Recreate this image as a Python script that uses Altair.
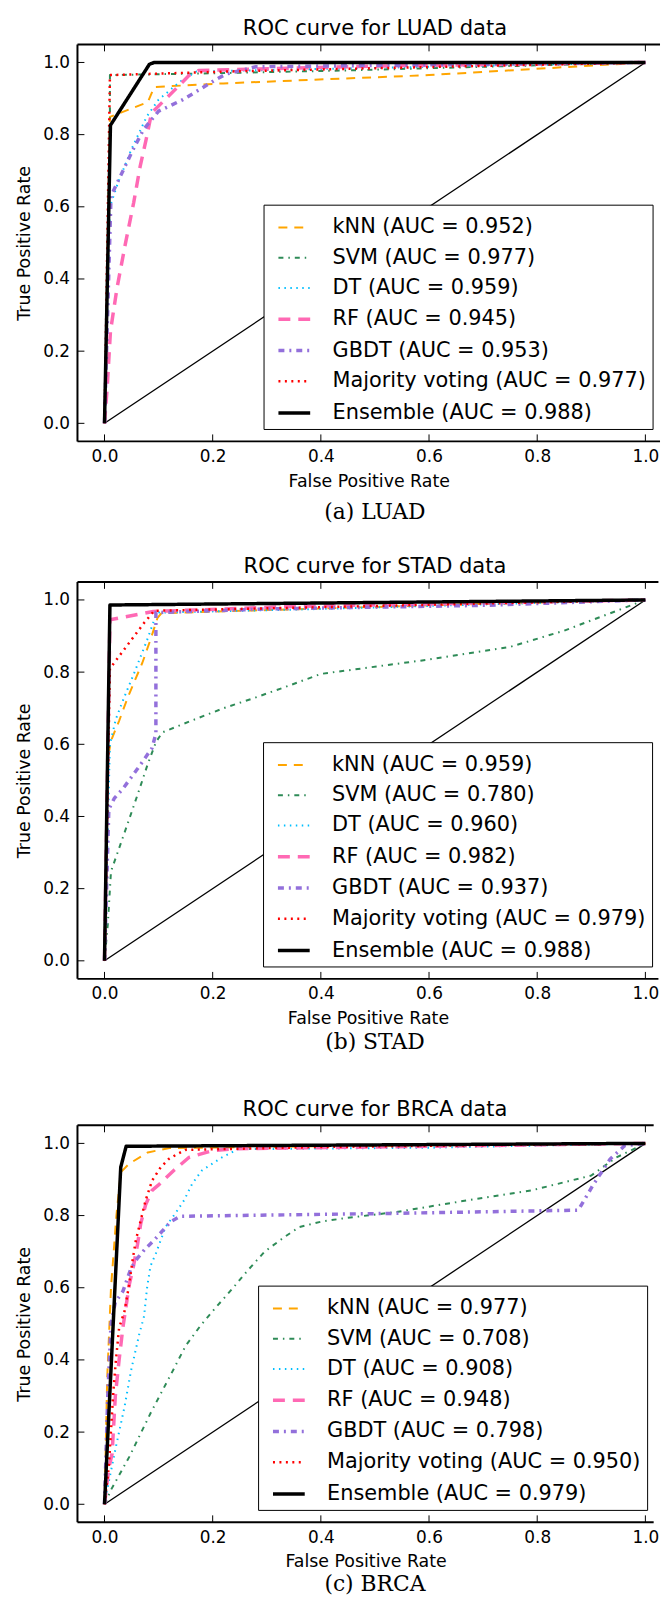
import altair as alt
import pandas as pd

FONT = "DejaVu Sans"
SERIF = "DejaVu Serif"

models = ["kNN", "SVM", "DT", "RF", "GBDT", "Majority voting", "Ensemble"]
colors = ["#FFA500", "#2E8B57", "#00BFFF", "#FF69B4", "#9370DB", "#FF0000", "#000000"]
dash_patterns = [[9, 7], [5, 5, 1.5, 5], [1.5, 4.5], [12, 8], [6, 5, 2, 5], [2, 4.5], [1, 0]]
line_widths = [2, 2, 2, 3.5, 3.5, 2.5, 3.5]
tick_values = [0.0, 0.2, 0.4, 0.6, 0.8, 1.0]

titles = ["ROC curve for LUAD data", "ROC curve for STAD data", "ROC curve for BRCA data"]
captions = ["(a) LUAD", "(b) STAD", "(c) BRCA"]

luad_auc = [0.952, 0.977, 0.959, 0.945, 0.953, 0.977, 0.988]
stad_auc = [0.959, 0.780, 0.960, 0.982, 0.937, 0.979, 0.988]
brca_auc = [0.977, 0.708, 0.908, 0.948, 0.798, 0.950, 0.979]

chance_fpr = [0.0, 1.0]
chance_tpr = [0.0, 1.0]

# ---- LUAD ----
luad_knn_fpr = [0, 0.01, 0.08, 0.092, 0.22, 0.6, 1.0]
luad_knn_tpr = [0, 0.849, 0.89, 0.932, 0.942, 0.965, 1.0]
luad_svm_fpr = [0, 0.01, 0.01, 0.2, 0.45, 0.75, 1.0]
luad_svm_tpr = [0, 0.83, 0.965, 0.97, 0.978, 0.99, 1.0]
luad_dt_fpr = [0, 0.01, 0.025, 0.05, 0.078, 0.1, 0.14, 0.17, 0.5, 1.0]
luad_dt_tpr = [0, 0.6, 0.667, 0.76, 0.85, 0.897, 0.947, 0.975, 0.985, 1.0]
luad_rf_fpr = [0, 0.005, 0.011, 0.023, 0.038, 0.054, 0.066, 0.077, 0.087, 0.13, 0.157, 0.175, 0.5, 1.0]
luad_rf_tpr = [0, 0.1, 0.255, 0.374, 0.493, 0.612, 0.713, 0.787, 0.86, 0.924, 0.965, 0.978, 0.99, 1.0]
luad_gbdt_fpr = [0, 0.012, 0.05, 0.072, 0.1, 0.145, 0.165, 0.205, 0.225, 0.28, 1.0]
luad_gbdt_tpr = [0, 0.63, 0.75, 0.814, 0.865, 0.897, 0.915, 0.952, 0.968, 0.988, 1.0]
luad_mv_fpr = [0, 0.01, 0.23, 0.53, 1.0]
luad_mv_tpr = [0, 0.965, 0.975, 0.985, 1.0]
luad_ens_fpr = [0, 0.011, 0.083, 0.092, 1.0]
luad_ens_tpr = [0, 0.826, 0.995, 1.0, 1.0]

# ---- STAD ----
stad_knn_fpr = [0, 0.005, 0.012, 0.027, 0.043, 0.07, 0.085, 0.098, 0.105, 0.3, 0.6, 1.0]
stad_knn_tpr = [0, 0.55, 0.61, 0.665, 0.73, 0.826, 0.89, 0.95, 0.963, 0.972, 0.985, 1.0]
stad_svm_fpr = [0, 0.006, 0.012, 0.027, 0.043, 0.064, 0.079, 0.095, 0.107, 0.16, 0.22, 0.28, 0.34, 0.4, 0.6, 0.75, 0.85, 1.0]
stad_svm_tpr = [0, 0.1, 0.248, 0.312, 0.381, 0.473, 0.541, 0.606, 0.633, 0.665, 0.7, 0.73, 0.762, 0.795, 0.835, 0.87, 0.915, 1.0]
stad_dt_fpr = [0, 0.01, 0.021, 0.035, 0.055, 0.079, 0.092, 0.1, 0.4, 1.0]
stad_dt_tpr = [0, 0.6, 0.67, 0.725, 0.798, 0.89, 0.945, 0.965, 0.975, 1.0]
stad_rf_fpr = [0, 0.01, 0.09, 0.35, 1.0]
stad_rf_tpr = [0, 0.945, 0.968, 0.982, 1.0]
stad_gbdt_fpr = [0, 0.008, 0.018, 0.034, 0.061, 0.088, 0.095, 0.095, 0.3, 0.7, 1.0]
stad_gbdt_tpr = [0, 0.42, 0.45, 0.477, 0.532, 0.59, 0.63, 0.965, 0.975, 0.985, 1.0]
stad_mv_fpr = [0, 0.01, 0.04, 0.073, 0.092, 0.4, 1.0]
stad_mv_tpr = [0, 0.81, 0.87, 0.936, 0.97, 0.98, 1.0]
stad_ens_fpr = [0, 0.01, 1.0]
stad_ens_tpr = [0, 0.986, 1.0]

# ---- BRCA ----
brca_knn_fpr = [0, 0.005, 0.012, 0.022, 0.03, 0.045, 0.08, 0.12, 0.4, 1.0]
brca_knn_tpr = [0, 0.35, 0.6, 0.8, 0.92, 0.943, 0.975, 0.987, 0.992, 1.0]
brca_svm_fpr = [0, 0.012, 0.046, 0.086, 0.128, 0.15, 0.177, 0.205, 0.235, 0.266, 0.296, 0.333, 0.36, 0.4, 0.44, 0.54, 0.67, 0.79, 0.9, 0.945, 1.0]
brca_svm_tpr = [0, 0.04, 0.132, 0.255, 0.375, 0.439, 0.494, 0.544, 0.595, 0.65, 0.7, 0.741, 0.768, 0.783, 0.792, 0.81, 0.842, 0.87, 0.911, 0.96, 1.0]
brca_dt_fpr = [0, 0.003, 0.021, 0.037, 0.049, 0.064, 0.073, 0.079, 0.085, 0.095, 0.113, 0.131, 0.147, 0.162, 0.18, 0.217, 0.247, 0.6, 1.0]
brca_dt_tpr = [0, 0.026, 0.159, 0.27, 0.37, 0.47, 0.52, 0.604, 0.66, 0.695, 0.769, 0.806, 0.842, 0.888, 0.925, 0.961, 0.984, 0.988, 1.0]
brca_rf_fpr = [0, 0.008, 0.014, 0.02, 0.027, 0.034, 0.04, 0.046, 0.054, 0.061, 0.067, 0.076, 0.088, 0.1, 0.128, 0.156, 0.2, 0.24, 0.5, 1.0]
brca_rf_tpr = [0, 0.1, 0.14, 0.3, 0.4, 0.49, 0.55, 0.61, 0.663, 0.72, 0.778, 0.83, 0.87, 0.885, 0.925, 0.961, 0.98, 0.985, 0.99, 1.0]
brca_gbdt_fpr = [0, 0.006, 0.012, 0.02, 0.034, 0.049, 0.061, 0.076, 0.092, 0.122, 0.14, 0.53, 0.876, 0.903, 0.935, 0.962, 1.0]
brca_gbdt_tpr = [0, 0.3, 0.5, 0.56, 0.59, 0.654, 0.682, 0.709, 0.732, 0.783, 0.798, 0.806, 0.815, 0.884, 0.957, 0.994, 1.0]
brca_mv_fpr = [0, 0.008, 0.012, 0.016, 0.021, 0.027, 0.037, 0.045, 0.052, 0.058, 0.067, 0.076, 0.088, 0.104, 0.119, 0.134, 0.15, 0.4, 1.0]
brca_mv_tpr = [0, 0.104, 0.205, 0.306, 0.398, 0.489, 0.535, 0.604, 0.677, 0.732, 0.787, 0.842, 0.897, 0.934, 0.957, 0.97, 0.982, 0.99, 1.0]
brca_ens_fpr = [0, 0.03, 0.04, 1.0]
brca_ens_tpr = [0, 0.934, 0.992, 1.0]

luad_curves = [(luad_knn_fpr, luad_knn_tpr), (luad_svm_fpr, luad_svm_tpr), (luad_dt_fpr, luad_dt_tpr),
               (luad_rf_fpr, luad_rf_tpr), (luad_gbdt_fpr, luad_gbdt_tpr), (luad_mv_fpr, luad_mv_tpr),
               (luad_ens_fpr, luad_ens_tpr)]
stad_curves = [(stad_knn_fpr, stad_knn_tpr), (stad_svm_fpr, stad_svm_tpr), (stad_dt_fpr, stad_dt_tpr),
               (stad_rf_fpr, stad_rf_tpr), (stad_gbdt_fpr, stad_gbdt_tpr), (stad_mv_fpr, stad_mv_tpr),
               (stad_ens_fpr, stad_ens_tpr)]
brca_curves = [(brca_knn_fpr, brca_knn_tpr), (brca_svm_fpr, brca_svm_tpr), (brca_dt_fpr, brca_dt_tpr),
               (brca_rf_fpr, brca_rf_tpr), (brca_gbdt_fpr, brca_gbdt_tpr), (brca_mv_fpr, brca_mv_tpr),
               (brca_ens_fpr, brca_ens_tpr)]

PX_PER_UNIT = 545.0
PLOT_RIGHT = 658  # page x where the visible plot stops (keeps the page from overflowing)
H = 400
TL = 7  # inward tick length


def make_panel(title, caption, aucs, curves, cap_off, plot_left, legend_x):
    W = PLOT_RIGHT - plot_left
    left_ext = plot_left - 8
    xmax = -0.05 + W / PX_PER_UNIT
    labels = [f"{m} (AUC = {a:.3f})" for m, a in zip(models, aucs)]
    rows = []
    for lab, (fx, ty) in zip(labels, curves):
        for i, (a, b) in enumerate(zip(fx, ty)):
            rows.append({"label": lab, "i": i, "fpr": a, "tpr": b})
    df = pd.DataFrame(rows)

    xs = alt.Scale(domain=[-0.05, xmax], nice=False, zero=False)
    ys = alt.Scale(domain=[-0.05, 1.05], nice=False, zero=False)
    xaxis = alt.Axis(values=tick_values, format=".1f", title="False Positive Rate", domain=False, ticks=False,
                     grid=False, labelFont=FONT, labelFontSize=17, labelColor="black", labelPadding=7,
                     titleFont=FONT, titleFontSize=17.5, titleFontWeight="normal", titleColor="black",
                     titlePadding=8, labelFlush=False)
    yaxis = alt.Axis(values=tick_values, format=".1f", title="True Positive Rate", domain=False, ticks=False,
                     grid=False, labelFont=FONT, labelFontSize=17, labelColor="black", labelPadding=8,
                     titleFont=FONT, titleFontSize=17.5, titleFontWeight="normal", titleColor="black",
                     titlePadding=9, labelFlush=False)

    legend = alt.Legend(title=None, orient="none", legendX=legend_x, legendY=161.5, symbolType="stroke",
                        symbolSize=1024, labelFont=FONT, labelFontSize=21, labelLimit=700, labelColor="black",
                        padding=6, rowPadding=3.5, symbolOffset=7, labelOffset=20.5, strokeColor="black",
                        fillColor="white", cornerRadius=0)

    lines = alt.Chart(df).mark_line(strokeCap="butt", strokeJoin="round").encode(
        x=alt.X("fpr:Q", scale=xs, axis=xaxis),
        y=alt.Y("tpr:Q", scale=ys, axis=yaxis),
        order="i:Q",
        color=alt.Color("label:N", scale=alt.Scale(domain=labels, range=colors), legend=legend, sort=labels),
        strokeDash=alt.StrokeDash("label:N", scale=alt.Scale(domain=labels, range=dash_patterns),
                                  legend=legend, sort=labels),
        strokeWidth=alt.StrokeWidth("label:N", scale=alt.Scale(type="ordinal", domain=labels, range=line_widths),
                                    legend=legend, sort=labels),
    )

    diag = alt.Chart(pd.DataFrame({"fpr": chance_fpr, "tpr": chance_tpr})).mark_line(
        color="black", strokeWidth=1.3).encode(
        x=alt.X("fpr:Q", scale=xs, axis=xaxis), y=alt.Y("tpr:Q", scale=ys, axis=yaxis))

    tdf = pd.DataFrame({"t": tick_values})
    top = alt.Chart(tdf).mark_rule(color="black", strokeWidth=1).encode(
        x=alt.X("t:Q", scale=xs, axis=xaxis), y=alt.value(0), y2=alt.value(TL))
    bottom = alt.Chart(tdf).mark_rule(color="black", strokeWidth=1).encode(
        x=alt.X("t:Q", scale=xs, axis=xaxis), y=alt.value(H - TL), y2=alt.value(H))
    left = alt.Chart(tdf).mark_rule(color="black", strokeWidth=1).encode(
        y=alt.Y("t:Q", scale=ys, axis=yaxis), x=alt.value(0), x2=alt.value(TL))

    one = pd.DataFrame({"k": [0]})
    frame_top = alt.Chart(one).mark_rule(color="black", strokeWidth=2).encode(
        x=alt.value(0), x2=alt.value(W), y=alt.value(0))
    frame_bottom = alt.Chart(one).mark_rule(color="black", strokeWidth=2).encode(
        x=alt.value(0), x2=alt.value(W), y=alt.value(H))
    frame_left = alt.Chart(one).mark_rule(color="black", strokeWidth=2).encode(
        x=alt.value(0), y=alt.value(0), y2=alt.value(H))

    cx = (PX_PER_UNIT * 1.1) / 2
    ttl = alt.Chart(pd.DataFrame({"t": [title]})).mark_text(
        font=FONT, fontSize=21.2, baseline="alphabetic", align="center", color="black").encode(
        x=alt.value(cx), y=alt.value(-9.3), text="t:N")

    cap = alt.Chart(pd.DataFrame({"c": [caption]})).mark_text(
        font=SERIF, fontSize=22, baseline="alphabetic", align="center", color="black").encode(
        x=alt.value(cx), y=alt.value(H + cap_off), text="c:N")

    spacer = alt.Chart(pd.DataFrame({"s": ["."]})).mark_text(
        opacity=0, align="left", baseline="middle", fontSize=10).encode(
        x=alt.value(-left_ext), y=alt.value(H / 2), text="s:N")

    return alt.layer(diag, lines, top, bottom, left, frame_top, frame_bottom, frame_left,
                     ttl, cap, spacer).properties(width=W, height=H)


pa = make_panel(titles[0], captions[0], luad_auc, luad_curves, 78.7, 71.0, 187.5)
pb = make_panel(titles[1], captions[1], stad_auc, stad_curves, 70.3, 72.6, 187.0)
pc = make_panel(titles[2], captions[2], brca_auc, brca_curves, 69.5, 77.4, 182.0)

res = dict(color="independent", strokeDash="independent", strokeWidth="independent",
           x="independent", y="independent")

inner = alt.vconcat(pa, pb, spacing=30.6).resolve_scale(**res)
chart = alt.vconcat(inner, pc, spacing=45.2).resolve_scale(**res).properties(
    padding={"left": 0, "top": 3.6, "right": 0, "bottom": 0}
).configure_view(stroke="transparent")

chart.save("out.html", embed_options={"renderer": "svg", "actions": False})
